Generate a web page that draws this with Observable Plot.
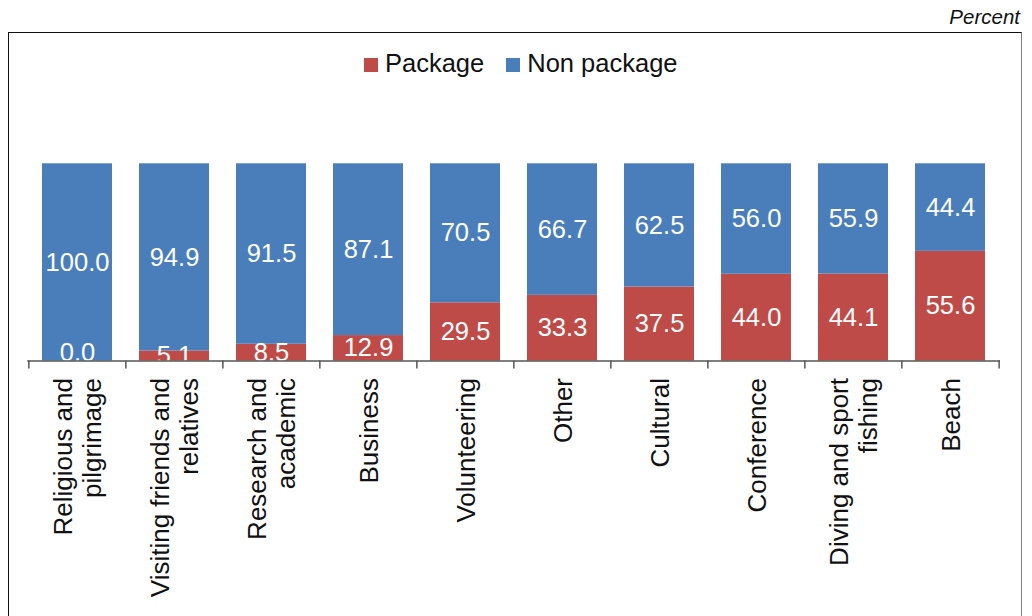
<!DOCTYPE html>
<html>
<head>
<meta charset="utf-8">
<script src="https://cdn.jsdelivr.net/npm/d3@7"></script>
<script src="https://cdn.jsdelivr.net/npm/@observablehq/plot@0.6"></script>
<style>
  html, body { margin: 0; padding: 0; background: white; }
  body { width: 1032px; height: 616px; position: relative; overflow: hidden; font-family: "Liberation Sans", Arial, Helvetica, sans-serif; }
  #chart { position: absolute; left: 0; top: 0; }
  #frame { position: absolute; left: 7.5px; top: 31.5px; width: 1012px; height: 700px; border: 1.5px solid #111; border-right-color: #808080; pointer-events: none; }
  #unit { position: absolute; right: 12px; top: 5px; font-size: 20.5px; font-style: italic; color: #111; }
  #legend { position: absolute; left: 364px; top: 49px; display: flex; align-items: center; font-size: 25.5px; color: #111; white-space: nowrap; }
  .item { display: flex; align-items: center; margin-right: 22px; }
  .sw { width: 14px; height: 14px; margin-right: 7px; display: inline-block; position: relative; top: 1px; }
</style>
</head>
<body>
<div id="chart"></div>
<div id="frame"></div>
<div id="unit">Percent</div>
<div id="legend"></div>
<script>
const categories = ["Religious and pilgrimage", "Visiting friends and relatives", "Research and academic", "Business", "Volunteering", "Other", "Cultural", "Conference", "Diving and sport fishing", "Beach"];
const tickLabels = ["Religious and\npilgrimage", "Visiting friends and\nrelatives", "Research and\nacademic", "Business", "Volunteering", "Other", "Cultural", "Conference", "Diving and sport\nfishing", "Beach"];
const packageValues = [0.0, 5.1, 8.5, 12.9, 29.5, 33.3, 37.5, 44.0, 44.1, 55.6];
const nonPackageValues = [100.0, 94.9, 91.5, 87.1, 70.5, 66.7, 62.5, 56.0, 55.9, 44.4];
const seriesNames = ["Package", "Non package"];
const seriesColors = ["#BE4B48", "#4A7EBB"];

const rows = categories.flatMap((c, i) => [
  {category: c, series: seriesNames[0], value: packageValues[i]},
  {category: c, series: seriesNames[1], value: nonPackageValues[i]}
]);

const W = 1032, H = 616, mL = 27.3, mR = 32, mT = 163.3, mB = 255.5;
const step = (W - mL - mR) / categories.length;
const fmt = d3.format(".1f");
const axisColor = "#555";

const chart = Plot.plot({
  width: W, height: H,
  marginLeft: mL, marginRight: mR, marginTop: mT, marginBottom: mB,
  style: {fontFamily: "'Liberation Sans', Arial, Helvetica, sans-serif", background: "transparent", overflow: "visible"},
  x: {domain: categories, paddingInner: 0.28, paddingOuter: 0.14, axis: null},
  y: {domain: [0, 100], axis: null},
  color: {domain: seriesNames, range: seriesColors},
  marks: [
    Plot.barY(rows, {x: "category", y: "value", fill: "series"}),
    Plot.text(rows, Plot.stackY({x: "category", y: "value", text: d => fmt(d.value), fill: "white", fontSize: 25.5, filter: d => d.value > 0})),
    Plot.text(rows, Plot.stackY({x: "category", y: "value", text: d => fmt(d.value), fill: "white", fontSize: 25.5, dy: -8, filter: d => d.value === 0})),
    Plot.ruleY([0], {stroke: axisColor, strokeWidth: 1.5}),
    Plot.ruleX(categories, {x: d => d, y1: 0, y2: -4, dx: -step / 2, stroke: axisColor, strokeWidth: 1.5}),
    Plot.ruleX(categories.slice(-1), {x: d => d, y1: 0, y2: -4, dx: step / 2, stroke: axisColor, strokeWidth: 1.5}),
    Plot.text(categories, {x: d => d, frameAnchor: "bottom", text: (d, i) => tickLabels[i], rotate: -90, textAnchor: "end", lineAnchor: "middle", lineHeight: 1.12, dy: 17, fontSize: 26, fill: "#111"})
  ]
});
document.getElementById("chart").appendChild(chart);

const legend = document.getElementById("legend");
seriesNames.forEach((name, i) => {
  const item = document.createElement("span");
  item.className = "item";
  const sw = document.createElement("span");
  sw.className = "sw";
  sw.style.background = seriesColors[i];
  item.appendChild(sw);
  item.appendChild(document.createTextNode(name));
  legend.appendChild(item);
});
</script>
</body>
</html>
